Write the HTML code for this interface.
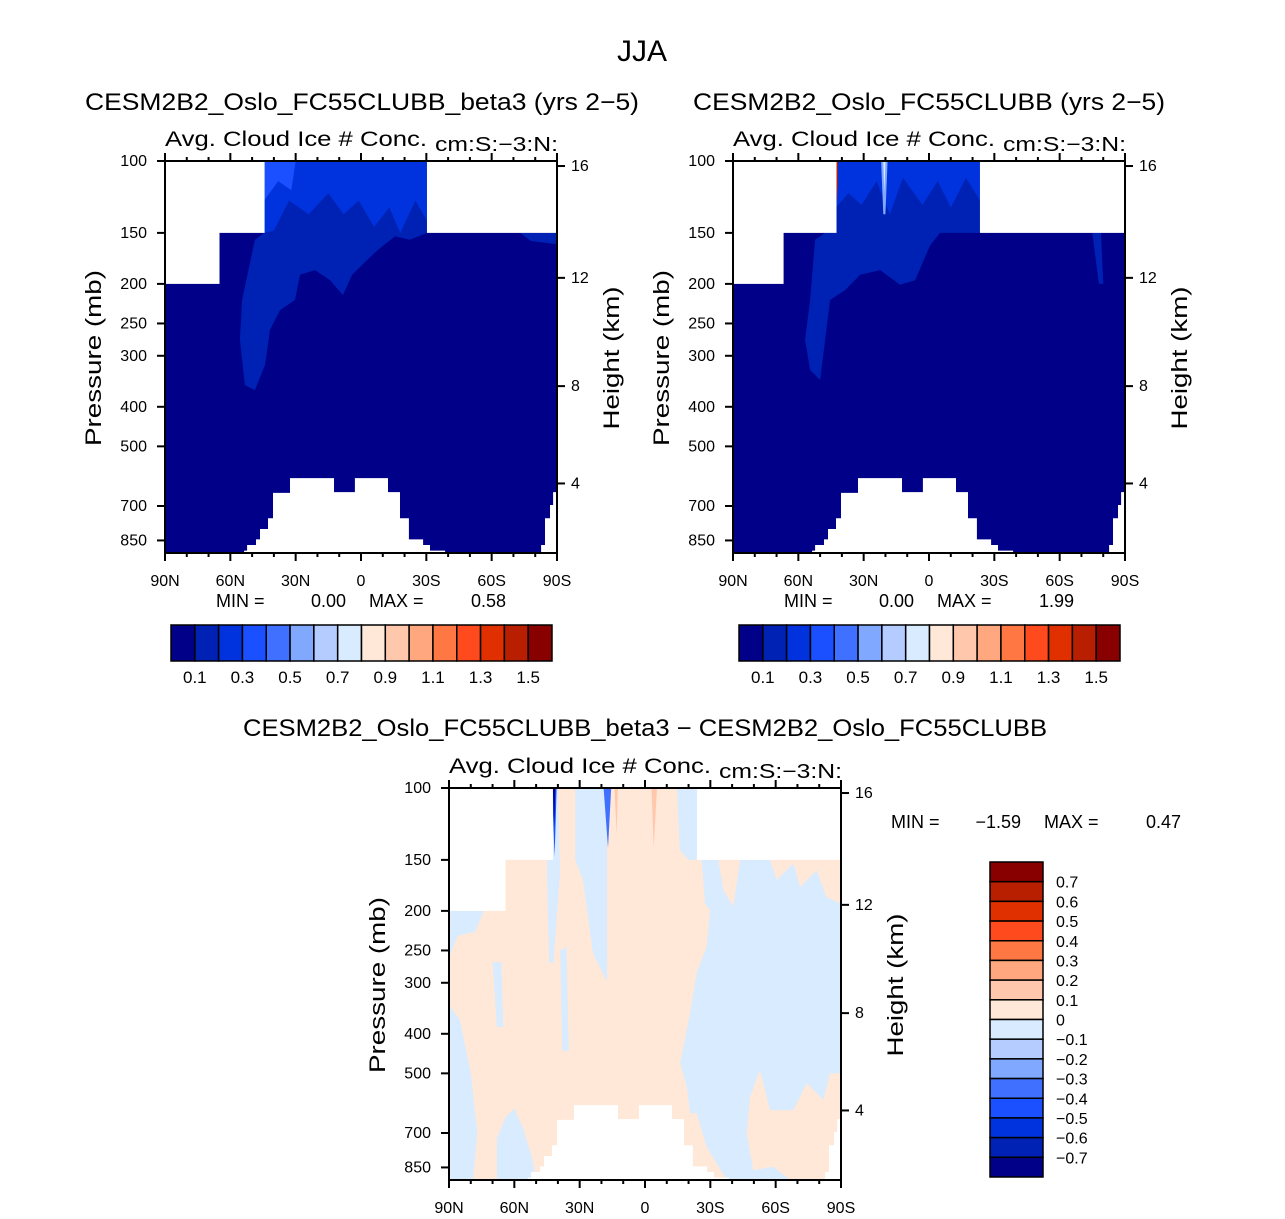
<!DOCTYPE html>
<html><head><meta charset="utf-8"><style>
html,body{margin:0;padding:0;background:#fff;}
svg{display:block;font-family:"Liberation Sans",sans-serif;}
</style></head><body>
<svg id="fig" width="1285" height="1219" viewBox="0 0 1285 1219" xmlns="http://www.w3.org/2000/svg"></svg>
<script>
// ---------- data ----------
const palette = ["#000088","#0022b4","#0033dd","#1a50ff","#4070ff","#80a8ff","#b4ccff","#d8ebff","#ffe8d8","#ffc8ad","#ffa880","#ff7844","#ff4a1e","#e03000","#b81e00","#880000"];
const absTickLabels = ["0.1","0.3","0.5","0.7","0.9","1.1","1.3","1.5"];
const diffTickLabels = ["0.7","0.6","0.5","0.4","0.3","0.2","0.1","0","−0.1","−0.2","−0.3","−0.4","−0.5","−0.6","−0.7"];
const pressureTicks = [100,150,200,250,300,400,500,700,850];
const heightTicks = [16,12,8,4];
const latTicks = [90,60,30,0,-30,-60,-90];
const latTickLabels = ["90N","60N","30N","0","30S","60S","90S"];
const statsA = ["0.00","0.58"];
const statsB = ["0.00","1.99"];
const statsD = ["−1.59","0.47"];
// terrain (white) masks: [lat, pressure]
const terrainMain = [[53.7,912],[53.7,900],[52.3,900],[52.3,872],[48.2,872],[48.2,845],[46.4,845],[46.4,797],[42.7,797],[42.7,750],[40.4,750],[40.4,650],[32.6,650],[32.6,598],[12.4,598],[12.4,647],[2.8,647],[2.8,598],[-12.4,598],[-12.4,647],[-17.9,647],[-17.9,750],[-22,750],[-22,845],[-28.5,845],[-28.5,872],[-31.7,872],[-31.7,900],[-38.6,900],[-38.6,912]];
const terrainSouth = [[-82.7,912],[-82.7,872],[-84.5,872],[-84.5,750],[-86.8,750],[-86.8,696],[-88.2,696],[-88.2,647],[-90,647],[-90,912]];
// top masks: [latNorth, latSouth, pressureBottom]
const topMaskA = [[90,65.2,200],[65.2,44.5,150],[-30.3,-90,150]];
const topMaskB = [[90,67,200],[67,42.7,150],[-23.4,-90,150]];
const topMaskD = [[90,64.3,200],[64.3,42.5,150],[-23.9,-90,150]];
// panel A contours
const aLevel2 = [[44.5,100],[-30.3,100],[-30.3,150],[-22.5,156],[-15.6,153],[-7.8,165],[-1.8,177],[4.1,190],[8.3,213],[14.2,196],[21.1,185],[28,190],[30.3,219],[37.2,232],[41.8,259],[44.1,316],[48.7,364],[53.3,354],[55.6,274],[54.6,219],[48.7,156],[44.5,150]];
const aLevel2b = [[-73,150],[-90,150],[-90,160],[-78,157]];
const aLevel3 = [[44.5,100],[-30.3,100],[-30.3,140],[-25,125],[-18,150],[-13,130],[-6,145],[1,125],[8,135],[15,120],[24,135],[33,125],[40,148],[44.5,150]];
const aLevel4 = [[44.5,100],[30,100],[32,118],[38,112],[44.5,125]];
// panel B contours
const bLevel2 = [[42.7,100],[-23.4,100],[-23.4,150],[-5.1,150],[-0.5,161],[6.4,196],[13.3,201],[22.4,185],[31.6,190],[38.5,207],[45.4,219],[50,344],[54.6,325],[56.9,274],[54.6,219],[52.3,156],[47.7,150],[42.7,150]];
const bLevel2b = [[-75,150],[-79,150],[-80,200],[-78,200]];
const bLevel3 = [[42.7,100],[-23.4,100],[-23.4,125],[-17,110],[-10,130],[-4,112],[3,128],[12,110],[18,135],[24,112],[31,128],[37,120],[42.7,130]];
const bLevel6 = [[22,100],[19,100],[20,135],[21,135]];
const bLevel8 = [[21,100],[20,100],[20.5,120]];
const bLevel15 = [[43,100],[41.8,100],[42,128]];
// panel D (difference) : base is 0..0.1 (peach); negative patches
const dNegRight = [[-26,150],[-33.7,150],[-36,178],[-40.6,195],[-43.6,150],[-57.4,150],[-60.5,168],[-68.1,153],[-71.2,175],[-78.8,159],[-83.4,185],[-90,192],[-90,500],[-85,500],[-81.9,581],[-74.3,529],[-68.1,615],[-57.4,615],[-52.8,491],[-48.2,570],[-46.7,701],[-49.7,863],[-58.9,847],[-66.6,912],[-37.5,912],[-28.3,756],[-23.7,626],[-20.7,626],[-19.2,539],[-16.1,473],[-20.7,356],[-23.7,284],[-28.3,245],[-29.9,199],[-27.6,192]];
const dNegTop = [[-14.7,100],[-23.9,100],[-23.9,150],[-20,150],[-16,142]];
const dNeg1 = [[44.5,100],[40,100],[39,160],[42,268],[44,268],[45,160]];
const dNeg2 = [[32,100],[17.4,100],[17.4,295],[18,295],[23.9,254],[28.5,168],[32,150]];
const dNeg3 = [[39,250],[36,245],[35,440],[38,440]];
const dNeg4 = [[70,267],[66,267],[65,385],[68,385]];
const dNeg5 = [[90,200],[74,200],[78,225],[86,230],[90,260]];
const dNegLeft = [[90,340],[85,370],[80,500],[77,700],[79,912],[90,912]];
const dNegLeft2 = [[68,912],[68,720],[64,640],[60,610],[56,680],[52,800],[50,912]];
const dNegDark = [[42.7,100],[40.6,100],[41.5,147]];
const dNegDarker = [[42.3,100],[41.2,100],[41.7,125]];
const dNegMid = [[19,100],[15.5,100],[17,140]];
const dPos1 = [[14,100],[12.5,100],[13,130]];
const dPos2 = [[-3,100],[-5.5,100],[-4,140]];

// ---------- helpers ----------
const NS = "http://www.w3.org/2000/svg";
const svg = document.getElementById("fig");
function el(tag, attrs, parent){ const e=document.createElementNS(NS,tag); for(const k in attrs) e.setAttribute(k,attrs[k]); (parent||svg).appendChild(e); return e; }
function txt(s, x, y, size, anchor, parent, len){ const t=el("text",{x:x,y:y,"font-size":size,"text-anchor":anchor||"start",fill:"#000"},parent); if(len){t.setAttribute("textLength",len);t.setAttribute("lengthAdjust","spacingAndGlyphs");} t.textContent=s; return t; }
const W=392, H=392;
function xOf(P,lat){ return P.x0 + (90-lat)/180*W; }
function yOf(P,p){ return Math.min(P.y0+H, P.y0 + 177.3*Math.log(p/100)); }
function stdP(zkm){ const z=zkm*1000; return z<=11000 ? 1013.25*Math.pow(1-2.25577e-5*z,5.25588) : 226.32*Math.exp(-(z-11000)/6341.6); }
function poly(P, pts, color, name, g){
  const d = pts.map(q=>xOf(P,q[0]).toFixed(1)+","+yOf(P,q[1]).toFixed(1)).join(" ");
  const e = el("polygon",{points:d,fill:color,stroke:"none"},g);
  
  
  return e;
}

function panel(P, cfg){
  const g = el("g",{});
  
  
  const bg = el("rect",{x:P.x0,y:P.y0,width:W,height:H,fill:cfg.bg},g);
  
  
  cfg.fills.forEach(f=>poly(P,f[0],f[1],f[2],g));
  cfg.tops.forEach(m=>{
    const r = el("rect",{x:xOf(P,m[0]),y:P.y0,width:xOf(P,m[1])-xOf(P,m[0])+0.5,height:yOf(P,m[2])-P.y0,fill:"#fff"},g);
    
    
  });
  poly(P,terrainMain,"#fff","terrain-mask",g);
  poly(P,terrainSouth,"#fff","terrain-mask-south",g);
  const frame = el("rect",{x:P.x0,y:P.y0,width:W,height:H,fill:"none",stroke:"#000","stroke-width":2},g);
  
  
  for(let lat=90; lat>=-90; lat-=10){
    const x=xOf(P,lat), major = lat%30===0, L = major?8:4;
    el("line",{x1:x,y1:P.y0+H,x2:x,y2:P.y0+H+L,stroke:"#000","stroke-width":2},g);
    el("line",{x1:x,y1:P.y0,x2:x,y2:P.y0-L,stroke:"#000","stroke-width":2},g);
  }
  latTicks.forEach((lat,i)=>{ const t=txt(latTickLabels[i], xOf(P,lat), P.y0+H+33, 16, "middle", g);
      });
  pressureTicks.forEach(p=>{ const y=yOf(P,p);
    el("line",{x1:P.x0,y1:y,x2:P.x0-8,y2:y,stroke:"#000","stroke-width":2},g);
    const t=txt(String(p), P.x0-18, y+5, 16, "end", g);
      });
  heightTicks.forEach(h=>{ const y=yOf(P,stdP(h));
    el("line",{x1:P.x0+W,y1:y,x2:P.x0+W+8,y2:y,stroke:"#000","stroke-width":2},g);
    const t=txt(String(h), P.x0+W+14, y+5, 16, "start", g);
      });
  const yl = txt("Pressure (mb)", 0,0, 22, "middle", g, 176);
  yl.setAttribute("transform",`translate(${P.x0-64},${P.y0+197}) rotate(-90)`);
   
  const yr = txt("Height (km)", 0,0, 22, "middle", g, 143);
  yr.setAttribute("transform",`translate(${P.x0+W+62},${P.y0+197}) rotate(-90)`);
   
  const t1=txt("Avg. Cloud Ice # Conc.", P.x0, P.y0-15, 21, "start", g, 262);
   
  const t2=txt("cm:S:−3:N:", P.x0+270, P.y0-10, 20, "start", g, 123);
   
  return g;
}

function hColorbar(x0,y0,w,h,labels,name){
  const g=el("g",{});  
  const bw=w/palette.length;
  palette.forEach((c,i)=>{ const r=el("rect",{x:x0+i*bw,y:y0,width:bw,height:h,fill:c,stroke:"#000","stroke-width":1.5},g);
      });
  labels.forEach((s,i)=>{ const t=txt(s, x0+(2*i+1)*bw, y0+h+22, 17, "middle", g);
      });
}
function vColorbar(x0,y0,w,h,labels,name){
  const g=el("g",{});  
  const bh=h/palette.length;
  palette.slice().reverse().forEach((c,i)=>{ const r=el("rect",{x:x0,y:y0+i*bh,width:w,height:bh,fill:c,stroke:"#000","stroke-width":1.5},g);
      });
  labels.forEach((s,i)=>{ const t=txt(s, x0+w+13, y0+(i+1)*bh+6, 16, "start", g);
      });
}
function stats(x,y,vals,sz){
  const g=el("g",{});  
  txt("MIN  =", x, y, sz, "start", g);
  txt(vals[0], x+130, y, sz, "end", g);
  txt("MAX  =", x+153, y, sz, "start", g);
  txt(vals[1], x+290, y, sz, "end", g);
}

// ---------- draw ----------
const tJ = txt("JJA", 642, 61, 30, "middle");  

const PA={x0:165,y0:161}, PB={x0:733,y0:161}, PD={x0:449,y0:788};
let s;
s=txt("CESM2B2_Oslo_FC55CLUBB_beta3 (yrs 2−5)", 362, 110, 24, "middle", null, 554);  
s=txt("CESM2B2_Oslo_FC55CLUBB (yrs 2−5)", 929, 110, 24, "middle", null, 472);  
s=txt("CESM2B2_Oslo_FC55CLUBB_beta3 − CESM2B2_Oslo_FC55CLUBB", 645, 736, 24, "middle", null, 804);  

panel(PA,{name:"panel-a-model-beta3",bg:palette[0],tops:topMaskA,fills:[
  [aLevel2,palette[1],"contour-0.1-0.2"],[aLevel2b,palette[1],"contour-0.1-0.2"],
  [aLevel3,palette[2],"contour-0.2-0.3"],[aLevel4,palette[3],"contour-0.3-0.4"]]});
panel(PB,{name:"panel-b-model-control",bg:palette[0],tops:topMaskB,fills:[
  [bLevel2,palette[1],"contour-0.1-0.2"],[bLevel2b,palette[1],"contour-0.1-0.2"],
  [bLevel3,palette[2],"contour-0.2-0.3"],[bLevel6,palette[5],"contour-0.5-0.6"],
  [bLevel8,palette[7],"contour-0.7-0.8"],[bLevel15,palette[14],"contour-1.4-1.5"]]});
panel(PD,{name:"panel-difference",bg:palette[8],tops:topMaskD,fills:[
  [dNegRight,palette[7],"contour-neg-0.1-0"],[dNegTop,palette[7],"contour-neg-0.1-0"],
  [dNeg1,palette[7],"contour-neg-0.1-0"],[dNeg2,palette[7],"contour-neg-0.1-0"],
  [dNeg3,palette[7],"contour-neg-0.1-0"],[dNeg4,palette[7],"contour-neg-0.1-0"],
  [dNeg5,palette[7],"contour-neg-0.1-0"],[dNegLeft,palette[7],"contour-neg-0.1-0"],
  [dNegLeft2,palette[7],"contour-neg-0.1-0"],
  [dNegDark,palette[3],"contour-neg-0.4"],[dNegDarker,palette[0],"contour-neg-0.7"],
  [dNegMid,palette[4],"contour-neg-0.3"],
  [dPos1,palette[9],"contour-0.1-0.2"],[dPos2,palette[9],"contour-0.1-0.2"]]});

stats(216,607,statsA,18);
stats(784,607,statsB,18);
stats(891,828,statsD,18);

hColorbar(171,625,381,36,absTickLabels,"colorbar-a");
hColorbar(739,625,381,36,absTickLabels,"colorbar-b");
vColorbar(990,862,53,315,diffTickLabels,"colorbar-diff");
</script>
</body></html>
